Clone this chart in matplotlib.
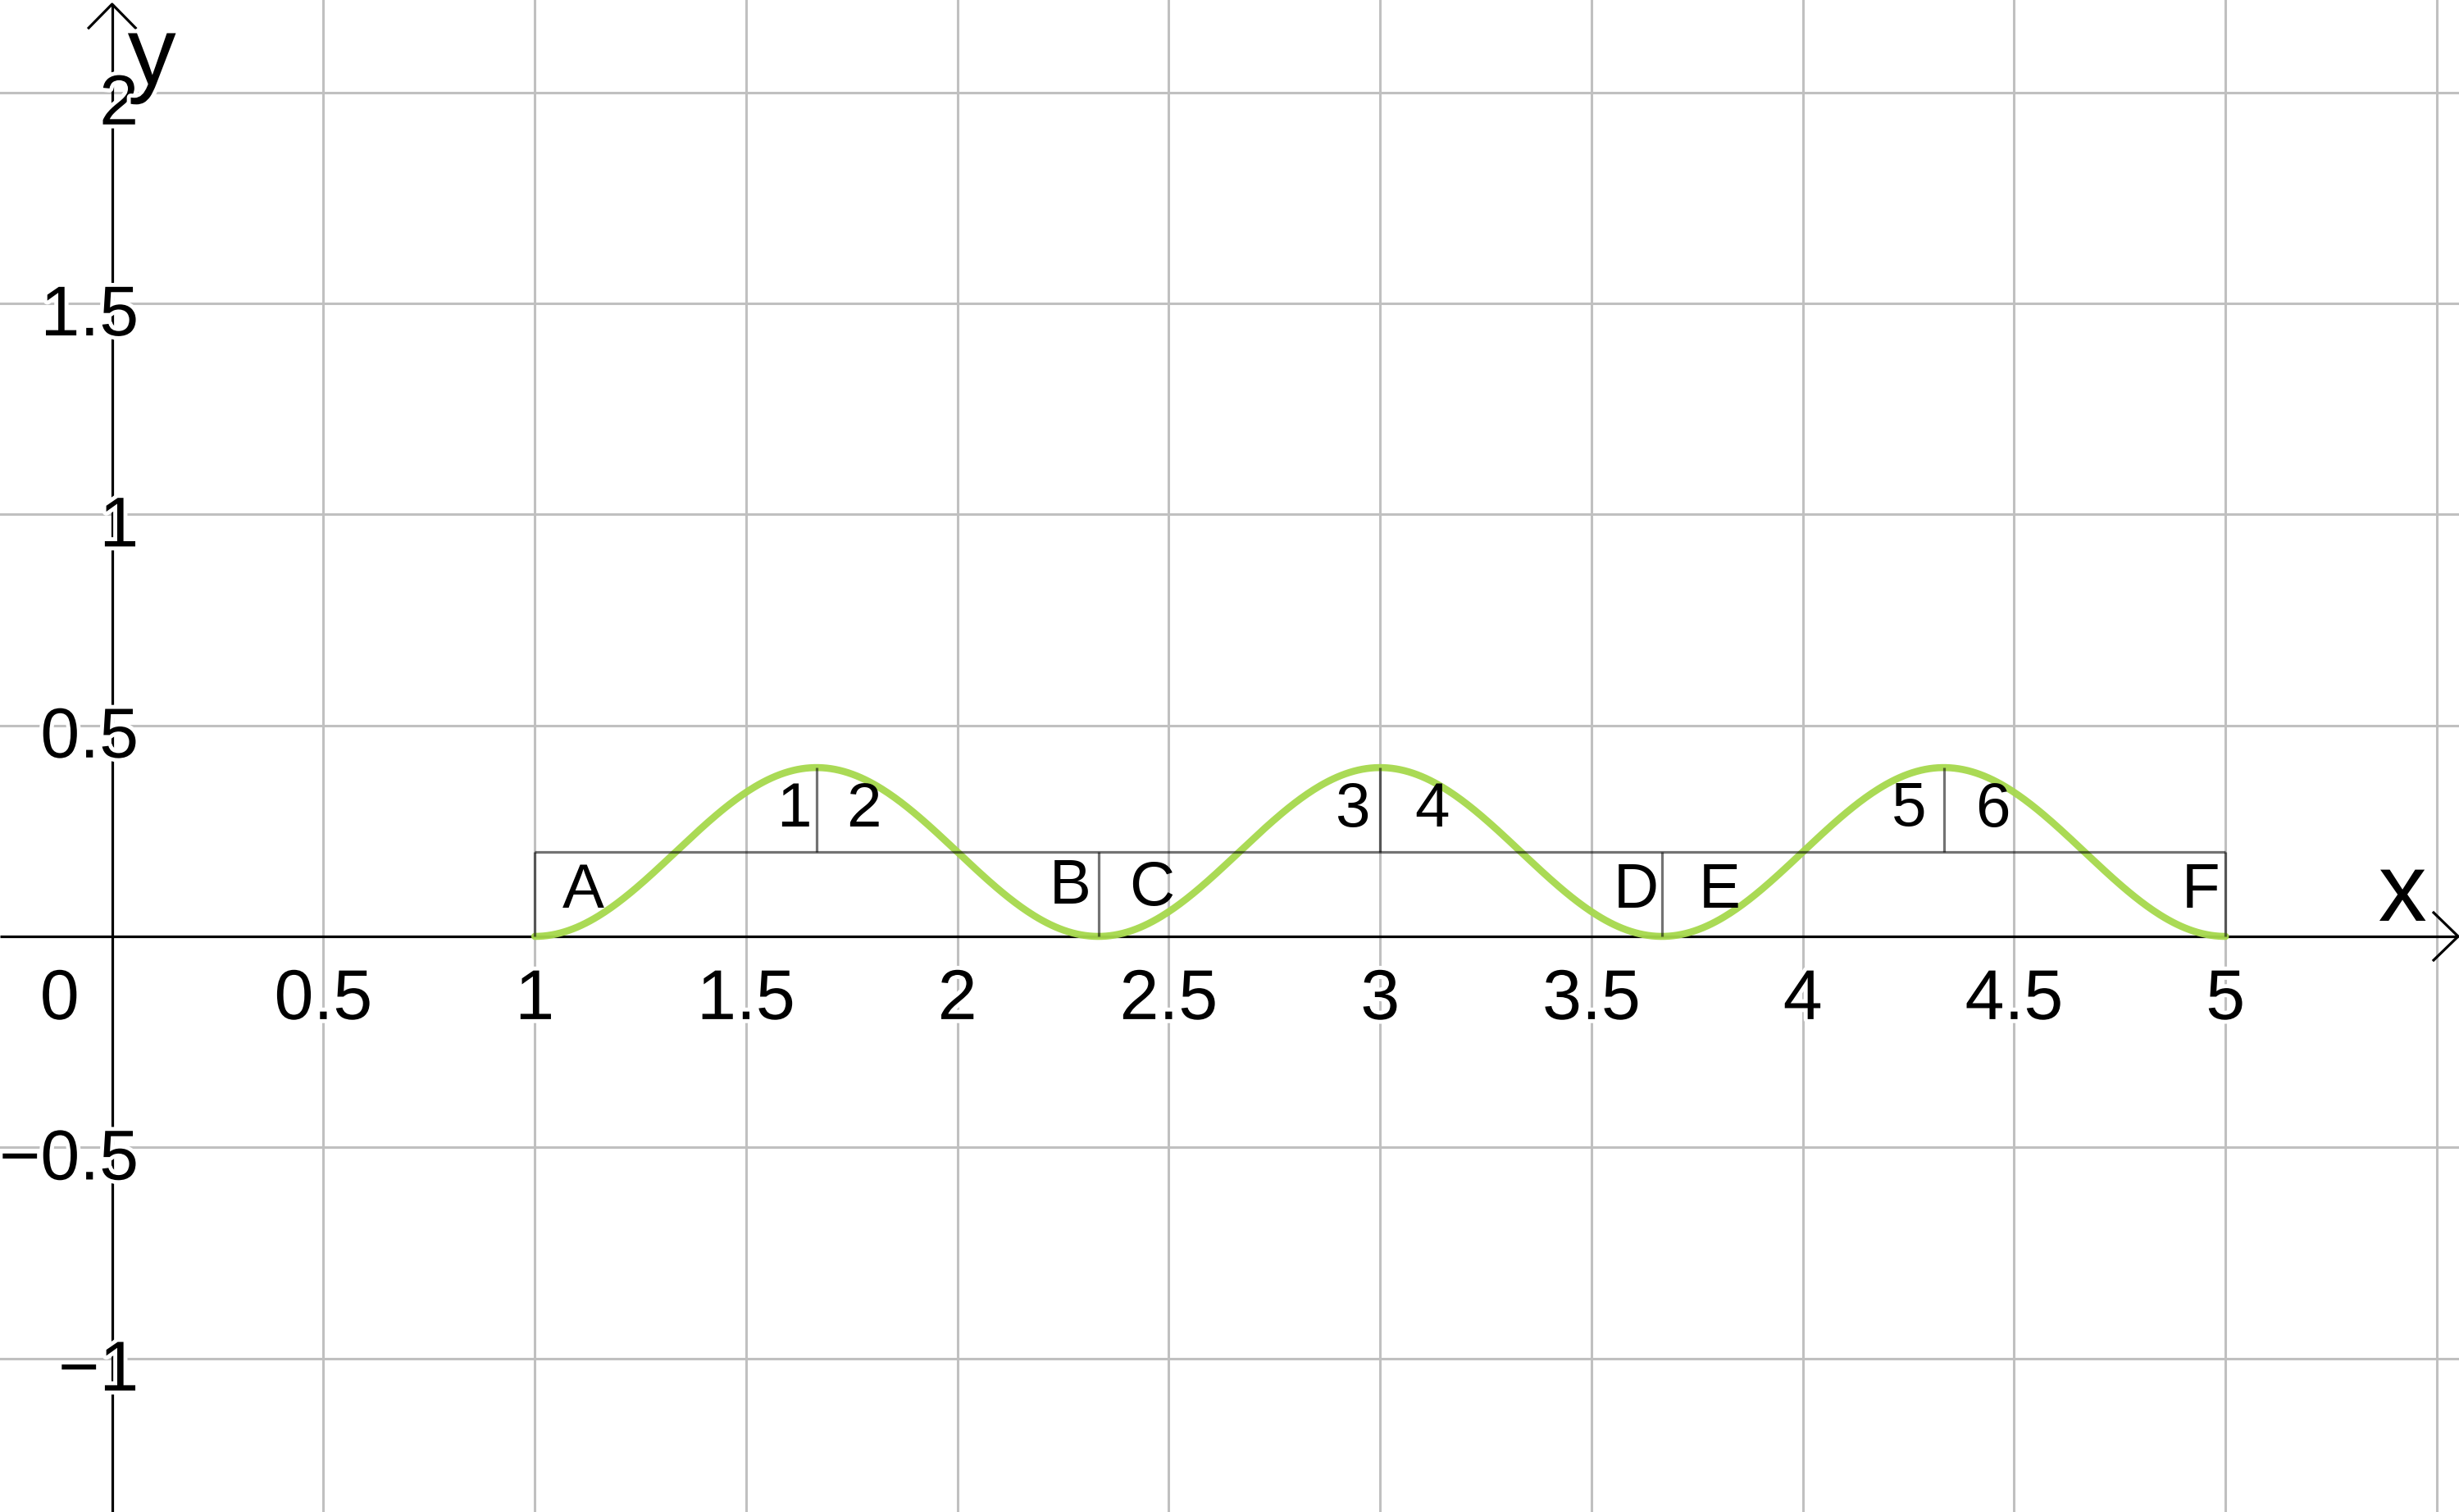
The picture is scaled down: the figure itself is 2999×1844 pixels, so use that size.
import numpy as np
import matplotlib
matplotlib.use("Agg")
import matplotlib.pyplot as plt
import matplotlib.patheffects as pe

plt.rcParams['font.family'] = ['Liberation Sans', 'DejaVu Sans']

# ---- data ----
x_view = (-0.2652, 5.5525)
y_view = (-1.3639, 2.2188)
grid_x = [0.5, 1, 1.5, 2, 2.5, 3, 3.5, 4, 4.5, 5, 5.5]
grid_y = [-1, -0.5, 0.5, 1, 1.5, 2]

x_tick_pos = [0, 0.5, 1, 1.5, 2, 2.5, 3, 3.5, 4, 4.5, 5]
x_tick_labels = ["0", "0.5", "1", "1.5", "2", "2.5", "3", "3.5", "4", "4.5", "5"]
y_tick_pos = [2, 1.5, 1, 0.5, -0.5, -1]
y_tick_labels = ["2", "1.5", "1", "0.5", "\u22120.5", "\u22121"]

# function f(x) = amp - amp*cos(2*pi*(x - x_start)/period) on [x_start, x_end]
x_start, x_end = 1.0, 5.0
amp = 0.2
period = 4.0 / 3.0

# rectangle / divider segments
base_level = 0.2
low_dividers = [1.0, 2.3333, 3.6667, 5.0]     # from 0 up to base_level
high_dividers = [1.6667, 3.0, 4.3333]         # from base_level up to peak
peak_level = 0.4

region_labels = ["A", "B", "C", "D", "E", "F"]
region_x = [1.114, 2.266, 2.460, 3.606, 3.803, 4.942]
region_y = [0.068, 0.077, 0.074, 0.068, 0.068, 0.068]
part_labels = ["1", "2", "3", "4", "5", "6"]
part_x = [1.613, 1.779, 2.934, 3.122, 4.252, 4.450]
part_y = [0.260, 0.260, 0.260, 0.260, 0.263, 0.260]

# ---- figure ----
fig = plt.figure(figsize=(29.99, 18.44), dpi=100)
ax = fig.add_axes([0, 0, 1, 1])
ax.set_xlim(*x_view)
ax.set_ylim(*y_view)
ax.axis('off')

grid_col = '#c0c0c0'
for gx in grid_x:
    ax.axvline(gx, color=grid_col, lw=2.2, zorder=1)
for gy in grid_y:
    ax.axhline(gy, color=grid_col, lw=2.2, zorder=1)

# axes with open arrowheads
x_tip = 5.5505
y_tip = 2.209
ax.plot([x_view[0], x_tip], [0, 0], color='black', lw=2.3, zorder=2, solid_capstyle='butt')
ax.plot([0, 0], [y_view[0], y_tip], color='black', lw=2.3, zorder=2, solid_capstyle='butt')
ax.plot([x_tip - 0.058, x_tip, x_tip - 0.058], [0.0563, 0, -0.0563], color='black', lw=2.3, zorder=2)
ax.plot([-0.0553, 0, 0.0553], [y_tip - 0.0563, y_tip, y_tip - 0.0563], color='black', lw=2.3, zorder=2)

# curve
xs = np.linspace(x_start, x_end, 800)
ys = amp - amp * np.cos(2 * np.pi * (xs - x_start) / period)
ax.plot(xs, ys, color='#A6D84C', lw=6.2, alpha=0.95, zorder=3, solid_capstyle='round')

# segments
seg_kw = dict(color='black', alpha=0.55, lw=2.3, zorder=4, solid_capstyle='butt')
ax.plot([x_start, x_end], [base_level, base_level], **seg_kw)
for dx in low_dividers:
    ax.plot([dx, dx], [0, base_level], **seg_kw)
for dx in high_dividers:
    ax.plot([dx, dx], [base_level, peak_level], **seg_kw)

halo = [pe.withStroke(linewidth=7, foreground='white')]

# tick labels
for xp, lab in zip(x_tick_pos, x_tick_labels):
    xx = -0.124 if xp == 0 else xp
    ax.text(xx, -0.196, lab, fontsize=62, ha='center', va='baseline',
            path_effects=halo, zorder=6)
for yp, lab in zip(y_tick_pos, y_tick_labels):
    ax.text(0.063, yp - 0.076, lab, fontsize=62, ha='right', va='baseline',
            path_effects=halo, zorder=6)

# axis names
ax.text(5.419, 0.037, "x", fontsize=85, ha='center', va='baseline', path_effects=halo, zorder=6)
ax.text(0.094, 2.019, "y", fontsize=85, ha='center', va='baseline', path_effects=halo, zorder=6)

# region labels
for lab, lx, ly in zip(region_labels, region_x, region_y):
    ax.text(lx, ly, lab, fontsize=55, ha='center', va='baseline', zorder=5)
for lab, lx, ly in zip(part_labels, part_x, part_y):
    ax.text(lx, ly, lab, fontsize=55, ha='center', va='baseline', zorder=5)

fig.savefig("out.png", dpi=100, facecolor='white')
